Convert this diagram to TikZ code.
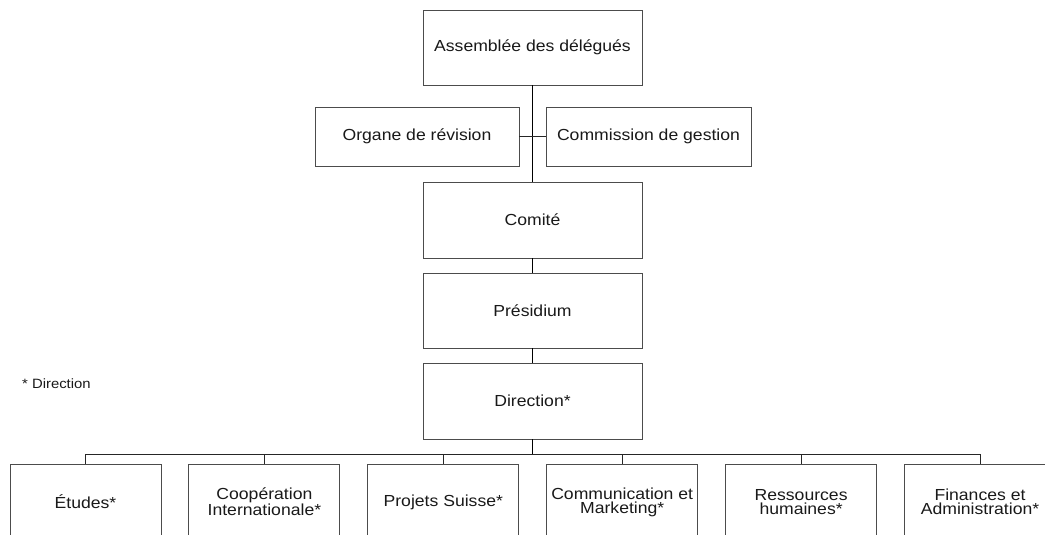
\documentclass[tikz,border=0pt]{standalone}
\usepackage{fontspec}
\setmainfont{Liberation Sans}[FakeStretch=1.1]
\begin{document}
\begin{tikzpicture}[x=1pt,y=-1pt,
  box/.style={draw=black!70, line width=0.9pt, inner sep=0pt, align=center,
    text=black!90, font=\fontsize{16}{14}\selectfont},
  topbox/.style={box, minimum width=219pt, minimum height=75pt},
  sidebox/.style={box, minimum width=204pt, minimum height=59pt},
  unitbox/.style={box, minimum width=151pt, minimum height=76pt},
  spine/.style={draw=black, line width=1.3pt},
  branch/.style={draw=black!85, line width=0.9pt}]
\clip (0,0) rectangle (1045,535);
\useasboundingbox (0,0) rectangle (1045,535);

\node[topbox] (ad) at (532.5,47.5) {Assemblée des délégués};
\node[sidebox] (or) at (417,136.5) {Organe de révision};
\node[sidebox, minimum width=205pt] (cg) at (648.5,136.5) {Commission de gestion};
\node[topbox, minimum height=76pt] (co) at (532.5,220) {Comité};
\node[topbox] (pr) at (532.5,310.5) {Présidium};
\node[topbox, minimum height=76pt] (di) at (532.5,401) {Direction*};

\node[anchor=west, inner sep=0pt, text=black!90, font=\fontsize{13.5}{14}\selectfont] (note) at (22,384) {* Direction};

\node[unitbox] (u1) at (85.5,502) {Études*};
\node[unitbox] (u2) at (264.4,502) {Coopération\\Internationale*};
\node[unitbox] (u3) at (443.3,502) {Projets Suisse*};
\node[unitbox] (u4) at (622.2,502) {Communication et\\Marketing*};
\node[unitbox] (u5) at (801.1,502) {Ressources\\humaines*};
\node[unitbox] (u6) at (980,502) {Finances et\\Administration*};

\coordinate (bus) at (532.5,454);

\draw[spine] (ad.south) -- (co.north);
\draw[branch] (or.east) -- (cg.west);
\draw[spine] (co.south) -- (pr.north);
\draw[spine] (pr.south) -- (di.north);
\draw[spine] (di.south) -- (bus);
\draw[branch] (u1.north) -- (u1.north |- bus) -- (u6.north |- bus) -- (u6.north);
\foreach \u in {u2,u3,u4,u5}
  \draw[branch] (\u.north) -- (\u.north |- bus);
\end{tikzpicture}
\end{document}
